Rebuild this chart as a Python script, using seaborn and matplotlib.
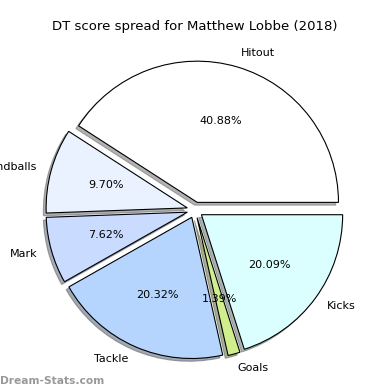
import seaborn as sns
import matplotlib
matplotlib.use("Agg")
import matplotlib.pyplot as plt

# DT score spread data (percent of total)
labels = ["Hitout", "Handballs", "Mark", "Tackle", "Goals", "Kicks"]
shares = [40.88, 9.70, 7.62, 20.32, 1.39, 20.09]
colors = ["#ffffff", "#eaf1ff", "#c9dbff", "#b5d5ff", "#d0ee8c", "#dbffff"]
explode = [0.06, 0.06, 0.06, 0.06, 0.06, 0.06]

sns.set_style("white")

fig = plt.figure(figsize=(3.9, 3.9), dpi=100)
ax = fig.add_axes([0.0, 0.0365, 1.0, 0.85])
ax.pie(shares, labels=labels, colors=colors, explode=explode,
       autopct="%1.2f%%", shadow={"ox": -0.015, "oy": -0.015, "shade": 0.6},
       startangle=0, radius=1.065,
       wedgeprops={"edgecolor": "black", "linewidth": 0.8},
       textprops={"fontsize": 8, "color": "black"})
ax.set_title("DT score spread for Matthew Lobbe (2018)", fontsize=9.5,
             color="black", pad=10)

fig.text(0.0, 0.015, "Dream-Stats.com", color="#999999", fontsize=7.7,
         fontweight="bold")

fig.savefig("out.png", dpi=100)
